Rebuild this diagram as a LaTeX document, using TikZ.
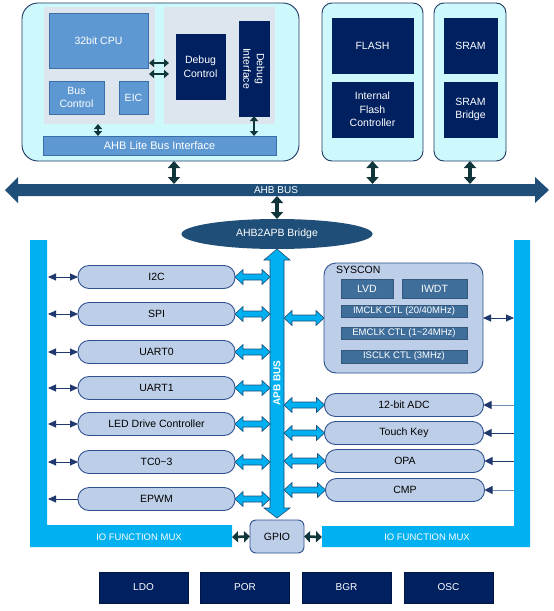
\documentclass[tikz,border=0pt]{standalone}
\usepackage{fontspec}
\setmainfont{Liberation Sans}
\usetikzlibrary{arrows.meta,calc,shapes.geometric}
\definecolor{topcyan}{RGB}{205,248,252}
\definecolor{topline}{RGB}{31,56,100}
\definecolor{panelgray}{RGB}{221,229,238}
\definecolor{cpufill}{RGB}{94,152,210}
\definecolor{cpuline}{RGB}{60,110,170}
\definecolor{navy}{RGB}{0,32,96}
\definecolor{busblue}{RGB}{31,78,121}
\definecolor{darkteal}{RGB}{16,54,60}
\definecolor{muxcyan}{RGB}{0,176,240}
\definecolor{perfill}{RGB}{189,206,232}
\definecolor{perline}{RGB}{47,82,143}
\definecolor{innerbox}{RGB}{64,110,155}
\definecolor{navyl}{RGB}{31,56,110}
\definecolor{grayblue}{RGB}{110,140,180}
\newcommand\lbarrow[2]{\path[lbfill] let \p1=#1, \p2=#2 in
 (\x1,\y1) -- ({\x1+8pt},{\y1+7.5pt}) -- ({\x1+8pt},{\y1+3pt}) -- ({\x2-8pt},{\y1+3pt}) -- ({\x2-8pt},{\y1+7.5pt}) -- (\x2,\y1) -- ({\x2-8pt},{\y1-7.5pt}) -- ({\x2-8pt},{\y1-3pt}) -- ({\x1+8pt},{\y1-3pt}) -- ({\x1+8pt},{\y1-7.5pt}) -- cycle;}
\begin{document}
\begin{tikzpicture}[x=1pt,y=-1pt,
  every node/.style={inner sep=0pt,outer sep=0pt,align=center},
  f9/.style={font=\fontsize{9.5}{11}\selectfont},
  f10/.style={font=\fontsize{10}{12}\selectfont},
  fp/.style={font=\fontsize{10.5}{12}\selectfont},
  f11/.style={font=\fontsize{10.5}{13.5}\selectfont},
  topblk/.style={draw=topline,fill=topcyan,line width=0.9pt,rounded corners=16pt},
  graypanel/.style={fill=panelgray},
  cpubox/.style={draw=cpuline,fill=cpufill,line width=0.8pt,text=white,f11},
  navybox/.style={fill=navy,draw=navy,text=white,f11},
  periph/.style={draw=perline,fill=perfill,line width=0.9pt,rounded corners=11pt,minimum width=157,minimum height=23,fp},
  rperiph/.style={periph,minimum width=159},
  inbox/.style={fill=innerbox,draw=innerbox!80!black,line width=0.5pt,text=white,f9},
  btm/.style={fill=navy,draw=navy!70!black,text=white,minimum width=89,minimum height=31,f10},
  darkarr/.style={draw=darkteal,line width=4pt,{Triangle[width=12pt,length=7pt]}-{Triangle[width=12pt,length=7pt]}},
  darksm/.style={draw=darkteal,line width=2.6pt,{Triangle[width=8pt,length=5pt]}-{Triangle[width=8pt,length=5pt]}},
  smallarr/.style={draw=navyl,line width=0.9pt,{Triangle[width=7pt,length=8pt]}-{Triangle[width=7pt,length=8pt]}},
  leftarr/.style={draw=navyl,line width=0.9pt,{Triangle[width=7pt,length=8pt]}-},
  rarr/.style={line width=1pt,-{Triangle[width=8pt,length=8pt,fill=navyl,color=navyl]}},
  lbfill/.style={fill=muxcyan,draw=busblue,line width=0.6pt},
  mux/.style={fill=muxcyan}
]
\useasboundingbox (0,0) rectangle (554,611);
\fill[white] (0,0) rectangle (554,611);

% ---------- top left block ----------
\node[topblk,minimum width=277,minimum height=158] (tl) at (160.5,82) {};
\node[graypanel,minimum width=111,minimum height=117] (lp) at (99.5,65.5) {};
\node[graypanel,minimum width=111,minimum height=117] (rp) at (219.5,65.5) {};
\node[cpubox,minimum width=99,minimum height=55] (cpu) at (98.5,40.5) {32bit CPU};
\node[cpubox,minimum width=55,minimum height=33] (busc) at (76.5,97.5) {Bus\\Control};
\node[cpubox,minimum width=29,minimum height=33] (eic) at (133.5,97.5) {EIC};
\node[navybox,minimum width=49,minimum height=65] (dc) at (200.5,66.5) {Debug\\Control};
\node[navybox,rotate=-90,minimum width=95,minimum height=30] (di) at (254,68.5) {Debug\\Interface};
\node[cpubox,minimum width=233,minimum height=19,font=\fontsize{11}{13}\selectfont] (lite) at (159.5,145.5) {AHB Lite Bus Interface};
\coordinate (ya) at (0,63);
\coordinate (yb) at (0,74);
\coordinate (xa) at (98,0);
\draw[darksm,shorten <=-6pt,shorten >=-5pt] (lp.east |- ya) -- (rp.west |- ya);
\draw[darksm,shorten <=-6pt,shorten >=-5pt] (lp.east |- yb) -- (rp.west |- yb);
\draw[darksm] (lp.south -| xa) -- (lite.north -| xa);
\draw[darksm] (di.east) -- (lite.north -| di.east);

% ---------- flash / sram ----------
\node[topblk,rounded corners=10pt,minimum width=101,minimum height=158] (fb) at (372.5,82) {};
\node[navybox,minimum width=81,minimum height=55] (flash) at (372.5,45.5) {FLASH};
\node[navybox,minimum width=81,minimum height=55] (ifc) at (372.5,109.5) {Internal\\Flash\\Controller};
\node[topblk,rounded corners=10pt,minimum width=72,minimum height=158] (sb) at (470,82) {};
\node[navybox,minimum width=53,minimum height=55] (sram) at (470.5,45.5) {SRAM};
\node[navybox,minimum width=53,minimum height=55] (srb) at (470.5,109.5) {SRAM\\Bridge};

% ---------- AHB bus ----------
\fill[busblue] (5,190) -- (18,177) -- (18,184) -- (535,184) -- (535,177) -- (549,190) -- (535,203) -- (535,196) -- (18,196) -- (18,203) -- cycle;
\node[text=white,f10] (ahb) at (276,190) {AHB BUS};
\coordinate (ahbT) at (0,184);
\coordinate (ahbB) at (0,196);
\coordinate (xt) at (174,0);
\draw[darkarr] (tl.south -| xt) -- (ahbT -| xt);
\draw[darkarr] (fb.south) -- (ahbT -| fb.south);
\draw[darkarr] (sb.south) -- (ahbT -| sb.south);

\node[ellipse,fill=busblue,minimum width=191,minimum height=30,text=white,f11] (br) at (277,234) {AHB2APB Bridge};
\draw[darkarr] (ahbB -| br.north) -- (br.north);

% ---------- APB bus ----------
\path[fill=muxcyan,draw=busblue,line width=0.6pt] (277,249) -- (290,260) -- (284,260) -- (284,508) -- (290,508) -- (277,518) -- (264,508) -- (270,508) -- (270,260) -- (264,260) -- cycle;
\node[rotate=90,text=white,font=\fontsize{10}{12}\selectfont\bfseries] (apb) at (277,383) {APB BUS};
\coordinate (apbL) at (270,0);
\coordinate (apbR) at (284,0);

% ---------- IO mux ----------
\fill[mux] (30,240) -- (47,240) -- (47,525) -- (232,525) -- (232,547) -- (30,547) -- cycle;
\fill[mux] (514,240) -- (530,240) -- (530,547) -- (322,547) -- (322,526) -- (514,526) -- cycle;
\node[text=white,f9] (muxlt) at (139,537) {IO FUNCTION MUX};
\node[text=white,f9] (muxrt) at (427,537) {IO FUNCTION MUX};
\coordinate (muxL) at (48,0);
\coordinate (muxR) at (514,0);
\coordinate (muxLe) at (232,537);
\coordinate (muxRe) at (322,537);

% ---------- left peripherals ----------
\node[periph] (i2c) at (156.5,277) {I2C};
\node[periph] (spi) at (156.5,314) {SPI};
\node[periph] (u0) at (156.5,352) {UART0};
\node[periph] (u1) at (156.5,388) {UART1};
\node[periph] (led) at (156.5,424) {LED Drive Controller};
\node[periph] (tc) at (156.5,462) {TC0\textasciitilde3};
\node[periph] (epwm) at (156.5,499) {EPWM};
\foreach \nm in {i2c,spi,u0,u1,led,tc}{
  \draw[smallarr] (muxL |- \nm.west) -- (\nm.west);
  \lbarrow{(\nm.east)}{(apbL |- \nm.east)}
}
\draw[leftarr] (muxL |- epwm.west) -- (epwm.west);
\lbarrow{(epwm.east)}{(apbL |- epwm.east)}

% ---------- SYSCON ----------
\node[draw=perline,fill=perfill,line width=0.9pt,rounded corners=12pt,minimum width=159,minimum height=110] (sys) at (403.5,318) {};
\node[anchor=west,fp] (syst) at (336,270) {SYSCON};
\node[inbox,minimum width=52,minimum height=19,fp] (lvd) at (367,288.5) {LVD};
\node[inbox,minimum width=65,minimum height=19,fp] (iwdt) at (434.5,288.5) {IWDT};
\node[inbox,minimum width=126,minimum height=12] (imc) at (404,311) {IMCLK CTL (20/40MHz)};
\node[inbox,minimum width=126,minimum height=12] (emc) at (404,333) {EMCLK CTL (1\textasciitilde24MHz)};
\node[inbox,minimum width=126,minimum height=13] (isc) at (404,356.5) {ISCLK CTL (3MHz)};
\lbarrow{(apbR |- sys.west)}{(sys.west)}
\draw[smallarr] (sys.east) -- (muxR |- sys.east);

% ---------- right peripherals ----------
\node[rperiph] (adc) at (404,405) {12-bit ADC};
\node[rperiph] (tk) at (404,433) {Touch Key};
\node[rperiph] (opa) at (405,461) {OPA};
\node[rperiph] (cmp) at (405,490) {CMP};
\foreach \nm in {adc,tk,opa,cmp}{
  \lbarrow{(apbR |- \nm.west)}{(\nm.west)}
}
\draw[rarr,draw=grayblue] (muxR |- adc.east) -- (adc.east);
\draw[rarr,draw=navyl] (muxR |- tk.east) -- (tk.east);
\draw[rarr,draw=navyl] (muxR |- opa.east) -- (opa.east);
\draw[rarr,draw=grayblue] (muxR |- cmp.east) -- (cmp.east);

% ---------- GPIO ----------
\node[draw=perline,fill=perfill,line width=0.9pt,rounded corners=6pt,minimum width=54,minimum height=33,fp] (gpio) at (277,536.5) {GPIO};
\draw[darksm,{Triangle[width=11pt,length=6pt]}-{Triangle[width=11pt,length=6pt]}] (muxLe) -- (gpio.west);
\draw[darksm,{Triangle[width=11pt,length=6pt]}-{Triangle[width=11pt,length=6pt]}] (gpio.east) -- (muxRe);

% ---------- bottom ----------
\node[btm] (ldo) at (143.5,587.5) {LDO};
\node[btm] (por) at (245,587.5) {POR};
\node[btm] (bgr) at (346.5,587.5) {BGR};
\node[btm] (osc) at (448.5,587.5) {OSC};
\end{tikzpicture}
\end{document}
